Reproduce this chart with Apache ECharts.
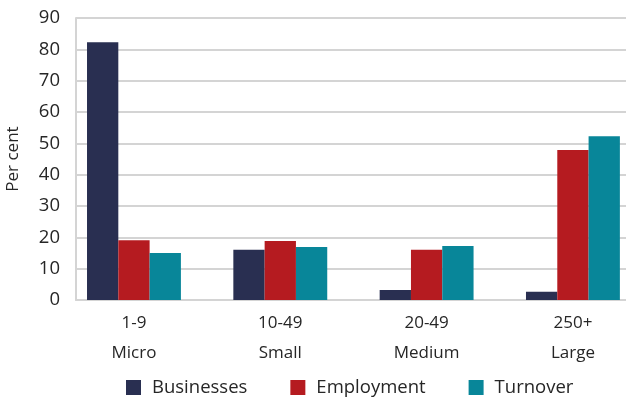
<!DOCTYPE html>
<html>
<head>
<meta charset="utf-8">
<script src="https://cdn.jsdelivr.net/npm/echarts@6/dist/echarts.min.js"></script>
<style>html,body{margin:0;padding:0;background:#fff}#c{width:626px;height:402px}</style>
</head>
<body>
<div id="c"></div>
<script>
var categories = ['1-9\nMicro', '10-49\nSmall', '20-49\nMedium', '250+\nLarge'];
var businesses = [82.3, 16.0, 3.2, 2.6];
var employment = [19.1, 18.8, 16.0, 47.9];
var turnover = [15.0, 16.9, 17.2, 52.3];
var yTicks = [0, 10, 20, 30, 40, 50, 60, 70, 80, 90];

var font = 'Open Sans';
var textColor = '#262626';
var chart = echarts.init(document.getElementById('c'), null, {renderer: 'canvas'});
chart.setOption({
  animation: false,
  textStyle: {fontFamily: font},
  grid: [
    {left: 76, top: 18, width: 550, height: 282, outerBoundsMode: 'none'},
    {left: 60.8, top: 18, width: 585.3, height: 282, outerBoundsMode: 'none'}
  ],
  xAxis: [
    {type: 'category', gridIndex: 0, data: categories, axisLabel: {show: false}, axisTick: {show: false},
     axisLine: {show: true, lineStyle: {color: '#d4d4d4', width: 2}}},
    {type: 'category', gridIndex: 1, data: categories, axisTick: {show: false}, axisLine: {show: false},
     axisLabel: {color: textColor, fontSize: 17, fontFamily: font, lineHeight: 30, margin: 8}}
  ],
  yAxis: [
    {type: 'value', gridIndex: 0, min: yTicks[0], max: yTicks[yTicks.length - 1], interval: 10,
     name: 'Per cent', nameLocation: 'middle', nameGap: 54,
     nameTextStyle: {color: textColor, fontSize: 17, fontFamily: font},
     axisLine: {show: true, lineStyle: {color: '#d4d4d4', width: 2}}, axisTick: {show: false},
     axisLabel: {color: textColor, fontSize: 18.5, fontFamily: font, margin: 16},
     splitLine: {show: true, lineStyle: {color: '#d4d4d4', width: 2}}},
    {type: 'value', gridIndex: 1, min: 0, max: 90, interval: 10, show: false, splitLine: {show: false}}
  ],
  legend: {
    bottom: 5, left: 126, padding: 0, itemWidth: 15, itemHeight: 15, itemGap: 43, icon: 'rect',
    textStyle: {color: textColor, fontSize: 18.5, fontFamily: font, padding: [0, 0, 0, 6]},
    data: ['Businesses', 'Employment', 'Turnover']
  },
  series: [
    {name: 'Businesses', type: 'bar', xAxisIndex: 1, yAxisIndex: 1, data: businesses, barWidth: 31.3, barGap: '0%', itemStyle: {color: '#292f51'}},
    {name: 'Employment', type: 'bar', xAxisIndex: 1, yAxisIndex: 1, data: employment, barWidth: 31.3, barGap: '0%', itemStyle: {color: '#b51b20'}},
    {name: 'Turnover', type: 'bar', xAxisIndex: 1, yAxisIndex: 1, data: turnover, barWidth: 31.3, barGap: '0%', itemStyle: {color: '#088699'}}
  ]
});
</script>
</body>
</html>
